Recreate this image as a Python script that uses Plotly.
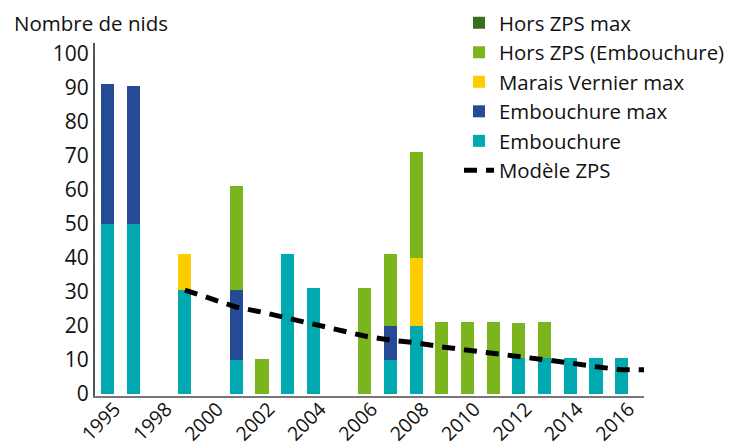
import plotly.graph_objects as go

categories = ["1995", "1996", "1998", "1999", "2000", "2001", "2002", "2003", "2004",
              "2005", "2006", "2007", "2008", "2009", "2010", "2011", "2012", "2013",
              "2014", "2015", "2016", "2017"]
tick_labels = ["1995", "1998", "2000", "2002", "2004", "2006", "2008", "2010", "2012", "2014", "2016"]
tick_positions = ["1995", "1998", "2000", "2002", "2004", "2006", "2008", "2010", "2012", "2014", "2016"]

embouchure = [50, 50, None, 30.5, None, 10, None, 41, 31, None, None, 10, 20, None, None, None, 10.5, 10.5, 10.5, 10.5, 10.5, None]
embouchure_max = [41, 40.5, None, None, None, 20.5, None, None, None, None, None, 10, None, None, None, None, None, None, None, None, None, None]
marais_vernier_max = [None, None, None, 10.5, None, None, None, None, None, None, None, None, 20, None, None, None, None, None, None, None, None, None]
hors_zps = [None, None, None, None, None, 30.5, 10.3, None, None, None, 31, 21, 31, 21, 21, 21, 10.3, 10.6, None, None, None, None]
hors_zps_max = [0] * len(categories)
modele_zps = [None, None, None, 30.5, 27.9, 25.5, 24, 22.3, 20.4, 18.6, 17, 15.8, 15, 13.8, 12.9, 12, 10.9, 10, 9.1, 8, 7.1, 7.1]

FONT = "Open Sans"
# page body has an 8px default margin, so the figure is 8px smaller than the window
W, H = 731, 437
ML, MR, MT, MB = 87, 95, 35, 49
PW, PH = W - ML - MR, H - MT - MB

fig = go.Figure()
fig.add_bar(x=categories, y=embouchure, name="Embouchure", marker=dict(color="#00a8b0", line_width=0), legendrank=5)
fig.add_bar(x=categories, y=embouchure_max, name="Embouchure max", marker=dict(color="#264b96", line_width=0), legendrank=4)
fig.add_bar(x=categories, y=marais_vernier_max, name="Marais Vernier max", marker=dict(color="#ffcc00", line_width=0), legendrank=3)
fig.add_bar(x=categories, y=hors_zps, name="Hors ZPS (Embouchure)", marker=dict(color="#7ab51d", line_width=0), legendrank=2)
fig.add_bar(x=categories, y=hors_zps_max, name="Hors ZPS max", marker=dict(color="#3a6e1f", line_width=0), legendrank=1)
fig.add_scatter(x=categories, y=modele_zps, name="Modèle ZPS", mode="lines",
                line=dict(color="black", width=5, dash="13px,9px"), legendrank=6)

fig.update_layout(
    width=W, height=H,
    margin=dict(l=ML, r=MR, t=MT, b=MB, autoexpand=False),
    barmode="stack", bargap=0.49,
    plot_bgcolor="white", paper_bgcolor="white",
    font=dict(family=FONT, size=20, color="#111"),
    showlegend=True,
    legend=dict(traceorder="normal", x=(459 - 95) / PW, y=1 + 40 / PH, xanchor="left", yanchor="top",
                bgcolor="rgba(0,0,0,0)", font=dict(size=20.4, family=FONT)),
    xaxis=dict(type="category", categoryorder="array", categoryarray=categories,
               range=[-0.5, 20.87], tickmode="array", tickvals=tick_positions, ticktext=tick_labels,
               tickangle=-45, showline=True, linecolor="#777", linewidth=2, showgrid=False,
               ticks="", tickfont=dict(size=19.5), ticklabelshift=7, ticklabelstandoff=-8,
               automargin=False),
    yaxis=dict(range=[-0.6, 103], tickmode="array", tickvals=list(range(0, 101, 10)),
               showline=True, linecolor="#555", linewidth=2, showgrid=False, zeroline=False,
               ticks="", tickfont=dict(size=21), automargin=False),
    annotations=[dict(text="Nombre de nids", xref="paper", yref="paper", x=-83 / PW, y=1 + 20 / PH,
                      xanchor="left", yanchor="middle", showarrow=False, font=dict(size=20.5, family=FONT))],
)
fig.write_html("out.html")
